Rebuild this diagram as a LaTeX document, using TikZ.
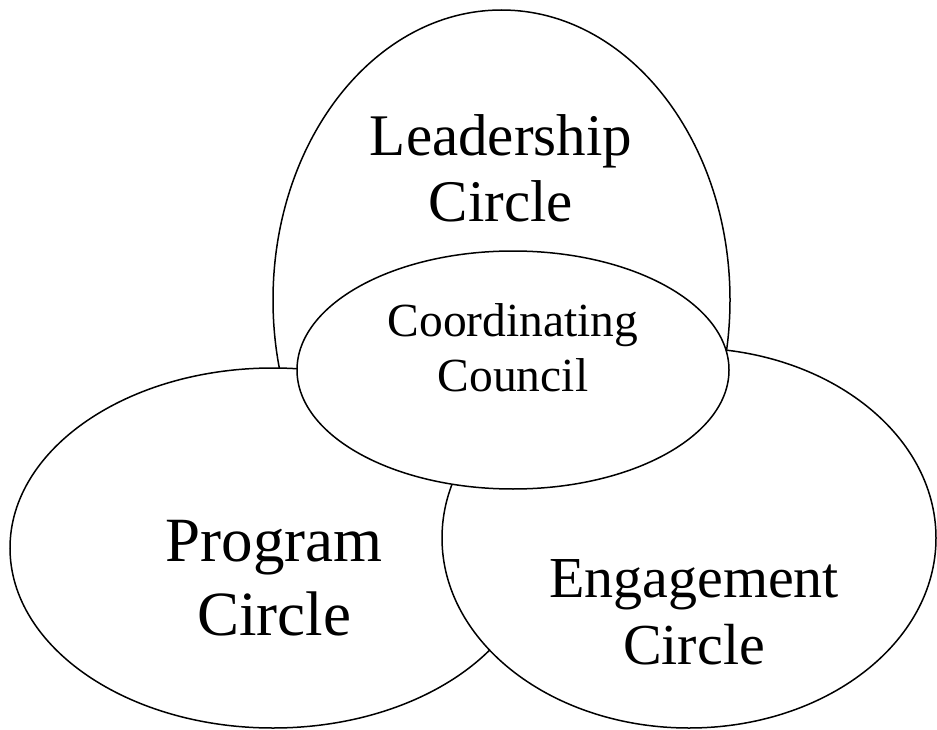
\documentclass[tikz,border=0pt]{standalone}
\usepackage{fontspec}
\setmainfont{Liberation Serif}
\tikzset{circ/.style={draw, fill=white, line width=1.5pt}}
\tikzset{lbl/.style={align=center, inner sep=0pt}}
\newcommand*{\lblfont}[2]{\fontsize{#1}{#2}\selectfont}

\begin{document}
\begin{tikzpicture}[x=1pt, y=-1pt]
    \useasboundingbox(0, 0)rectangle(937, 730);
    \coordinate(L)at(501.5, 300);
    \coordinate(P)at(273, 548);
    \coordinate(E)at(689, 538);
    \coordinate(C)at(513, 370);
    \draw[circ](L)ellipse[x radius=228.5, y radius=290];
    \draw[circ](P)ellipse[x radius=263, y radius=180];
    \draw[circ](E)ellipse[x radius=247, y radius=190];
    \draw[circ](C)ellipse[x radius=216, y radius=119];
    \node(lead)[lbl, font={\lblfont{59}{66}}]at(501, 168){Leadership\\Circle};
    \node(prog)[lbl, font={\lblfont{63}{74}}]at(274, 578){Program\\Circle};
    \node(enga)[lbl, font={\lblfont{58}{67}}]at(694, 612){Engagement\\Circle};
    \node(coor)[lbl, font={\lblfont{47.5}{55}}]at(513, 348){Coordinating\\Council};
\end{tikzpicture}
\end{document}
